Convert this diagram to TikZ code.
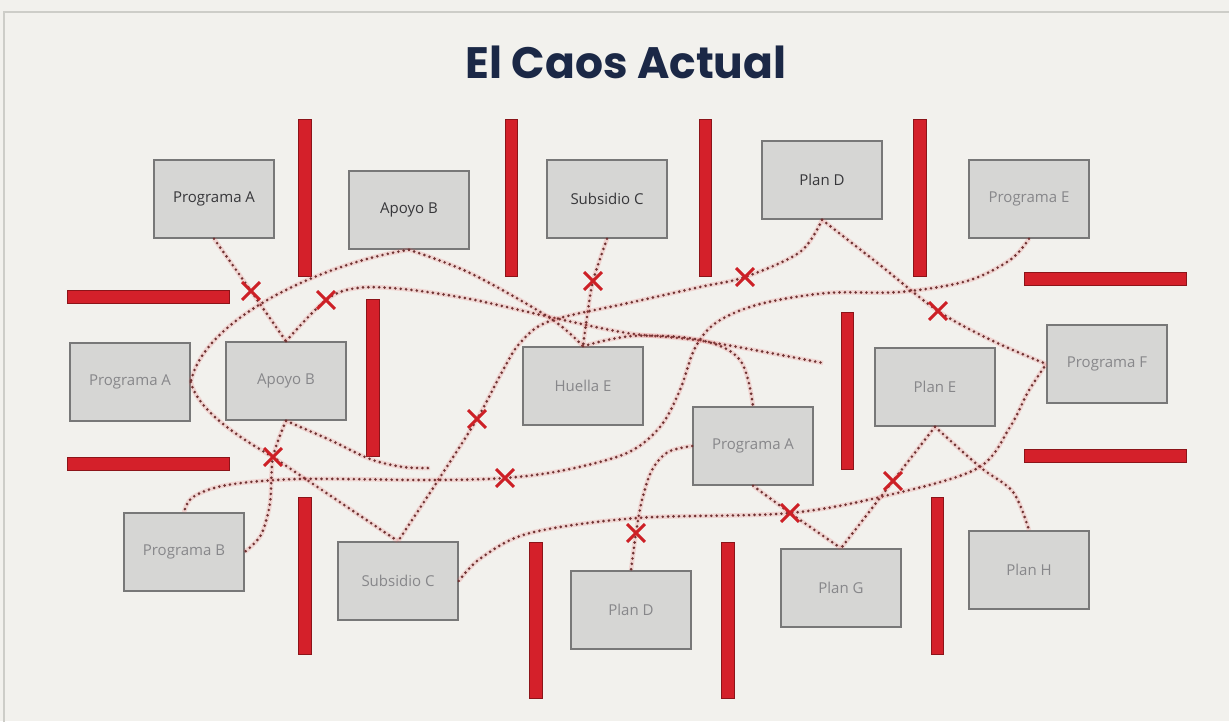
\documentclass[tikz,border=0pt]{standalone}
\usepackage{fontspec}
\setmainfont{Open Sans}
\newfontfamily\titlefont{Poppins}
\usetikzlibrary{shapes.misc}
\definecolor{bg}{RGB}{242,241,237}
\definecolor{frame}{RGB}{205,205,200}
\definecolor{navy}{RGB}{27,40,70}
\definecolor{boxfill}{RGB}{214,214,212}
\definecolor{boxline}{RGB}{120,120,120}
\definecolor{sharptext}{RGB}{55,55,58}
\definecolor{fuzzytext}{RGB}{135,135,138}
\definecolor{barred}{RGB}{212,32,42}
\definecolor{bardark}{RGB}{140,20,25}
\definecolor{dotcol}{RGB}{112,50,50}
\definecolor{glow}{RGB}{235,90,90}
\definecolor{xred}{RGB}{205,32,38}
\tikzset{
  box/.style={draw=boxline, fill=boxfill, line width=1.5pt, minimum width=120pt, minimum height=78pt, inner sep=0pt, font=\fontsize{15}{17}\selectfont, text=sharptext},
  fuzzy/.style={text=fuzzytext},
  bar/.style={fill=barred, draw=bardark, line width=0.9pt},
  conn/.style={draw=dotcol, line width=2.9pt, line cap=round, dash pattern=on 0pt off 5.4pt,
    preaction={draw=glow, draw opacity=0.18, line width=4.5pt, solid}},
  xmark/.style={cross out, draw=xred, line width=2.9pt, minimum size=15pt, inner sep=0pt},
}
\begin{document}
\begin{tikzpicture}[x=1pt,y=-1pt]
\useasboundingbox (0,0) rectangle (1229,721);
\fill[bg] (0,0) rectangle (1229,721);
\draw[frame, line width=1.5pt] (4,730) -- (4,12) -- (1235,12);

\node[font=\titlefont\bfseries\fontsize{44}{48}\selectfont, text=navy, anchor=base] (title) at (626,78) {El Caos Actual};

% red barriers
\draw[bar] (298,119) rectangle (311,276);
\draw[bar] (505,119) rectangle (517,276);
\draw[bar] (699,119) rectangle (711,276);
\draw[bar] (913,119) rectangle (926,276);
\draw[bar] (366,299) rectangle (379,456);
\draw[bar] (841,312) rectangle (853,469);
\draw[bar] (298,497) rectangle (311,654);
\draw[bar] (529,542) rectangle (542,698);
\draw[bar] (721,542) rectangle (734,698);
\draw[bar] (931,497) rectangle (943,654);
\draw[bar] (67,290) rectangle (229,303);
\draw[bar] (67,457) rectangle (229,470);
\draw[bar] (1024,272) rectangle (1186,285);
\draw[bar] (1024,449) rectangle (1186,462);

% boxes
\node[box] (pa1) at (214,199) {Programa A};
\node[box] (ab1) at (409,210) {Apoyo B};
\node[box] (sc1) at (607,199) {Subsidio C};
\node[box] (pd1) at (822,180) {Plan D};
\node[box,fuzzy] (pe) at (1029,199) {Programa E};
\node[box,fuzzy] (pa2) at (130,382) {Programa A};
\node[box,fuzzy] (ab2) at (286,381) {Apoyo B};
\node[box,fuzzy] (he) at (583,386) {Huella E};
\node[box,fuzzy] (pa3) at (753,446) {Programa A};
\node[box,fuzzy] (ple) at (935,387) {Plan E};
\node[box,fuzzy] (pf) at (1107,364) {Programa F};
\node[box,fuzzy] (pb) at (184,552) {Programa B};
\node[box,fuzzy] (sc2) at (398,581) {Subsidio C};
\node[box,fuzzy] (pd2) at (631,610) {Plan D};
\node[box,fuzzy] (pg) at (841,588) {Plan G};
\node[box,fuzzy] (ph) at (1029,570) {Plan H};

% crossing points
\coordinate (c1) at (251,291);
\coordinate (c2) at (326,300);
\coordinate (c3) at (593,281);
\coordinate (c4) at (745,277);
\coordinate (c5) at (938,311);
\coordinate (c6) at (477,419);
\coordinate (c7) at (273,457);
\coordinate (c8) at (505,478);
\coordinate (c9) at (636,533);
\coordinate (c10) at (790,513);
\coordinate (c11) at (893,481);
\coordinate (dEnd) at (823,363);
\coordinate (jEnd) at (430,468);

% connectors
\draw[conn] (pa1.south) -- (c1) -- (ab2.north);
\draw[conn] (ab1.south) .. controls (330,262) and (205,315) .. (pa2.east);
\draw[conn] (pa2.east) .. controls (198,410) and (235,435) .. (c7) -- (sc2.north);
\draw[conn] plot[smooth, tension=0.55] coordinates {(ab2.north) (c2) (357,288) (403,289) (470,299) (550,317) (627,333) (703,341) (dEnd)};
\draw[conn] plot[smooth, tension=0.55] coordinates {(ab1.south) (470,273) (550,318) (he.north)};
\draw[conn] plot[smooth, tension=0.6] coordinates {(he.north) (633,336) (700,340) (740,360) (pa3.north)};
\draw[conn] plot[smooth, tension=0.5] coordinates {(sc1.south) (c3) (587,317) (he.north)};
\draw[conn] plot[smooth, tension=0.55] coordinates {(pd1.south) (800,252) (c4) (700,287) (633,302) (550,321) (520,343) (502,372) (c6) (437,482) (sc2.north)};
\draw[conn] plot[smooth, tension=0.55] coordinates {(pd1.south) (880,265) (c5) (993,341) (pf.west)};
\draw[conn] plot[smooth, tension=0.55] coordinates {(pe.south) (1010,260) (967,281) (900,292) (827,293) (760,304) (717,322) (695,348) (680,390) (660,427) (627,453) (565,470) (c8) (427,480) (300,479) (227,485) (193,497) (pb.north)};
\draw[conn] plot[smooth, tension=0.55] coordinates {(ab2.south) (330,440) (370,459) (403,467) (jEnd)};
\draw[conn] plot[smooth, tension=0.5] coordinates {(ab2.south) (c7) (270,503) (261,535) (pb.east)};
\draw[conn] plot[smooth, tension=0.55] coordinates {(sc2.east) (481,558) (530,533) (637,518) (c10) (893,494) (978,468) (1010,427) (1028,392) (pf.west)};
\draw[conn] plot[smooth, tension=0.55] coordinates {(pa3.west) (668,452) (652,470) (642,500) (c9) (pd2.north)};
\draw[conn] (pa3.south) -- (c10) -- (pg.north);
\draw[conn] plot[smooth, tension=0.5] coordinates {(ple.south) (c11) (pg.north)};
\draw[conn] plot[smooth, tension=0.55] coordinates {(ple.south) (980,467) (1013,492) (ph.north)};

% crosses
\node[xmark] (x1) at (c1) {};
\node[xmark] (x2) at (c2) {};
\node[xmark] (x3) at (c3) {};
\node[xmark] (x4) at (c4) {};
\node[xmark] (x5) at (c5) {};
\node[xmark] (x6) at (c6) {};
\node[xmark] (x7) at (c7) {};
\node[xmark] (x8) at (c8) {};
\node[xmark] (x9) at (c9) {};
\node[xmark] (x10) at (c10) {};
\node[xmark] (x11) at (c11) {};
\end{tikzpicture}
\end{document}
